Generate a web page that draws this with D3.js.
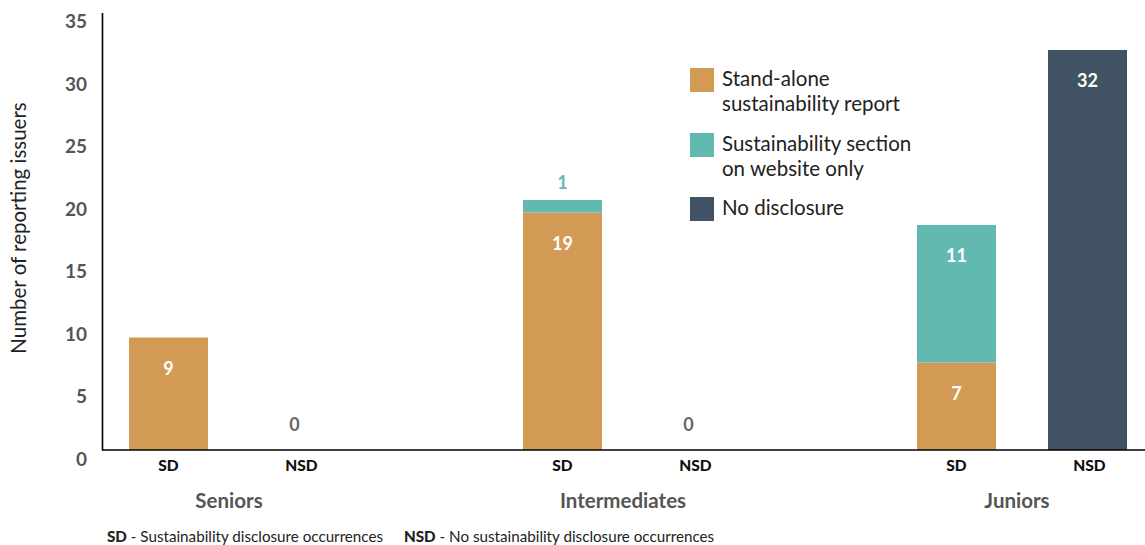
<!DOCTYPE html>
<html>
<head>
<meta charset="utf-8">
<script src="https://cdn.jsdelivr.net/npm/d3@7"></script>
<style>
  html, body { margin: 0; padding: 0; background: #fff; }
  svg { display: block; font-family: "Source Sans Pro", Lato, "Open Sans", sans-serif; }
</style>
</head>
<body>
<svg id="chart" width="1145" height="545"></svg>
<script>
// Issuer tiers and the two disclosure columns in each tier
const tiers = ["Seniors", "Intermediates", "Juniors"];
const columns = ["SD", "NSD"];

// Counts per tier for each disclosure type (SD column)
const standAlone = [9, 19, 7];
const websiteOnly = [0, 1, 11];
// Counts per tier with no disclosure (NSD column)
const noDisclosure = [0, 0, 32];

const yTicks = [0, 5, 10, 15, 20, 25, 30, 35];

const seriesNames = ["Stand-alone\nsustainability report", "Sustainability section\non website only", "No disclosure"];
const colors = ["#D39A55", "#62B9AF", "#405263"];

const svg = d3.select("#chart");
const W = 1145;
const x0 = 102, yBase = 450, yTop = 12.5;

const y = d3.scaleLinear().domain([0, 35]).range([yBase, yTop]);

// Outer scale positions each tier; columns sit at fixed offsets inside each tier band
const xTier = d3.scaleBand().domain(tiers).range([103, 1285]);
const barW = 79;
const colCenter = { SD: 65.5, NSD: 196.5 };
const cx = (t, c) => xTier(t) + colCenter[c];

// Y axis
const yAxis = d3.axisLeft(y).tickValues(yTicks).tickSize(0).tickPadding(15).tickFormat(d3.format("d"));
const ga = svg.append("g").attr("transform", `translate(${x0},0)`).call(yAxis);
ga.select(".domain").attr("stroke", "#000").attr("stroke-width", 1.6);
ga.selectAll("text")
  .attr("dy", "0.8em")
  .attr("fill", "#555")
  .style("font-size", "19px")
  .style("font-weight", 700)
  .style("font-family", "'Source Sans Pro', Lato, sans-serif");

// Y axis title
svg.append("text")
  .attr("transform", `translate(26,228) rotate(-90)`)
  .attr("text-anchor", "middle")
  .attr("fill", "#222")
  .style("font-size", "20.5px")
  .text("Number of reporting issuers");

// Bars: SD column stacked (stand-alone, website only); NSD column single
const segs = [];
tiers.forEach((t, i) => {
  segs.push({ t, c: "SD", y0: 0, y1: standAlone[i], v: standAlone[i], k: 0 });
  segs.push({ t, c: "SD", y0: standAlone[i], y1: standAlone[i] + websiteOnly[i], v: websiteOnly[i], k: 1 });
  segs.push({ t, c: "NSD", y0: 0, y1: noDisclosure[i], v: noDisclosure[i], k: 2 });
});

svg.append("g").selectAll("rect")
  .data(segs.filter(d => d.v > 0))
  .join("rect")
  .attr("x", d => cx(d.t, d.c) - barW / 2)
  .attr("width", barW)
  .attr("y", d => y(d.y1))
  .attr("height", d => y(d.y0) - y(d.y1))
  .attr("fill", d => colors[d.k]);

// Value labels
const lab = svg.append("g").attr("text-anchor", "middle").style("font-weight", 700).style("font-size", "18px");
segs.forEach(d => {
  if (d.v === 0) {
    if (d.k === 2) {
      lab.append("text").attr("x", cx(d.t, d.c) - 5).attr("y", y(0) - 19)
        .attr("fill", "#666").text(d.v);
    }
    return;
  }
  const h = y(d.y0) - y(d.y1);
  if (h < 25) {
    lab.append("text").attr("x", cx(d.t, d.c)).attr("y", y(d.y1) - 11)
      .attr("fill", colors[d.k]).text(d.v);
  } else {
    lab.append("text").attr("x", cx(d.t, d.c)).attr("y", y(d.y1) + 37)
      .attr("fill", "#fff").text(d.v);
  }
});

// Baseline
svg.append("line").attr("x1", x0).attr("x2", W).attr("y1", yBase).attr("y2", yBase)
  .attr("stroke", "#000").attr("stroke-width", 1.6);

// Column labels and tier labels
tiers.forEach(t => {
  columns.forEach(c => {
    svg.append("text").attr("x", cx(t, c) + (c === "NSD" ? 2 : 0)).attr("y", 471)
      .attr("text-anchor", "middle").attr("fill", "#111")
      .style("font-size", "15.5px").style("font-weight", 900)
      .text(c);
  });
  svg.append("text").attr("x", (cx(t, "SD") + cx(t, "NSD")) / 2 - 5).attr("y", 508)
    .attr("text-anchor", "middle").attr("fill", "#555")
    .style("font-size", "20.5px").style("font-weight", 700)
    .text(t);
});

// Legend
const legY = [68, 133, 197];
const leg = svg.append("g");
seriesNames.forEach((name, i) => {
  leg.append("rect").attr("x", 690).attr("y", legY[i]).attr("width", 24).attr("height", 24).attr("fill", colors[i]);
  const lines = name.split("\n");
  const tx = leg.append("text").attr("x", 722).attr("y", legY[i] + 18)
    .attr("fill", "#222").style("font-size", "20.5px");
  lines.forEach((ln, j) => tx.append("tspan").attr("x", 722).attr("dy", j === 0 ? 0 : 25).text(ln));
});

// Footnote
const foot = svg.append("text").attr("y", 542).attr("fill", "#222").style("font-size", "15.2px");
foot.append("tspan").attr("x", 107).style("font-weight", 900).text("SD");
foot.append("tspan").text(" - Sustainability disclosure occurrences");
foot.append("tspan").attr("x", 404).style("font-weight", 900).text("NSD");
foot.append("tspan").text(" - No sustainability disclosure occurrences");
</script>
</body>
</html>
